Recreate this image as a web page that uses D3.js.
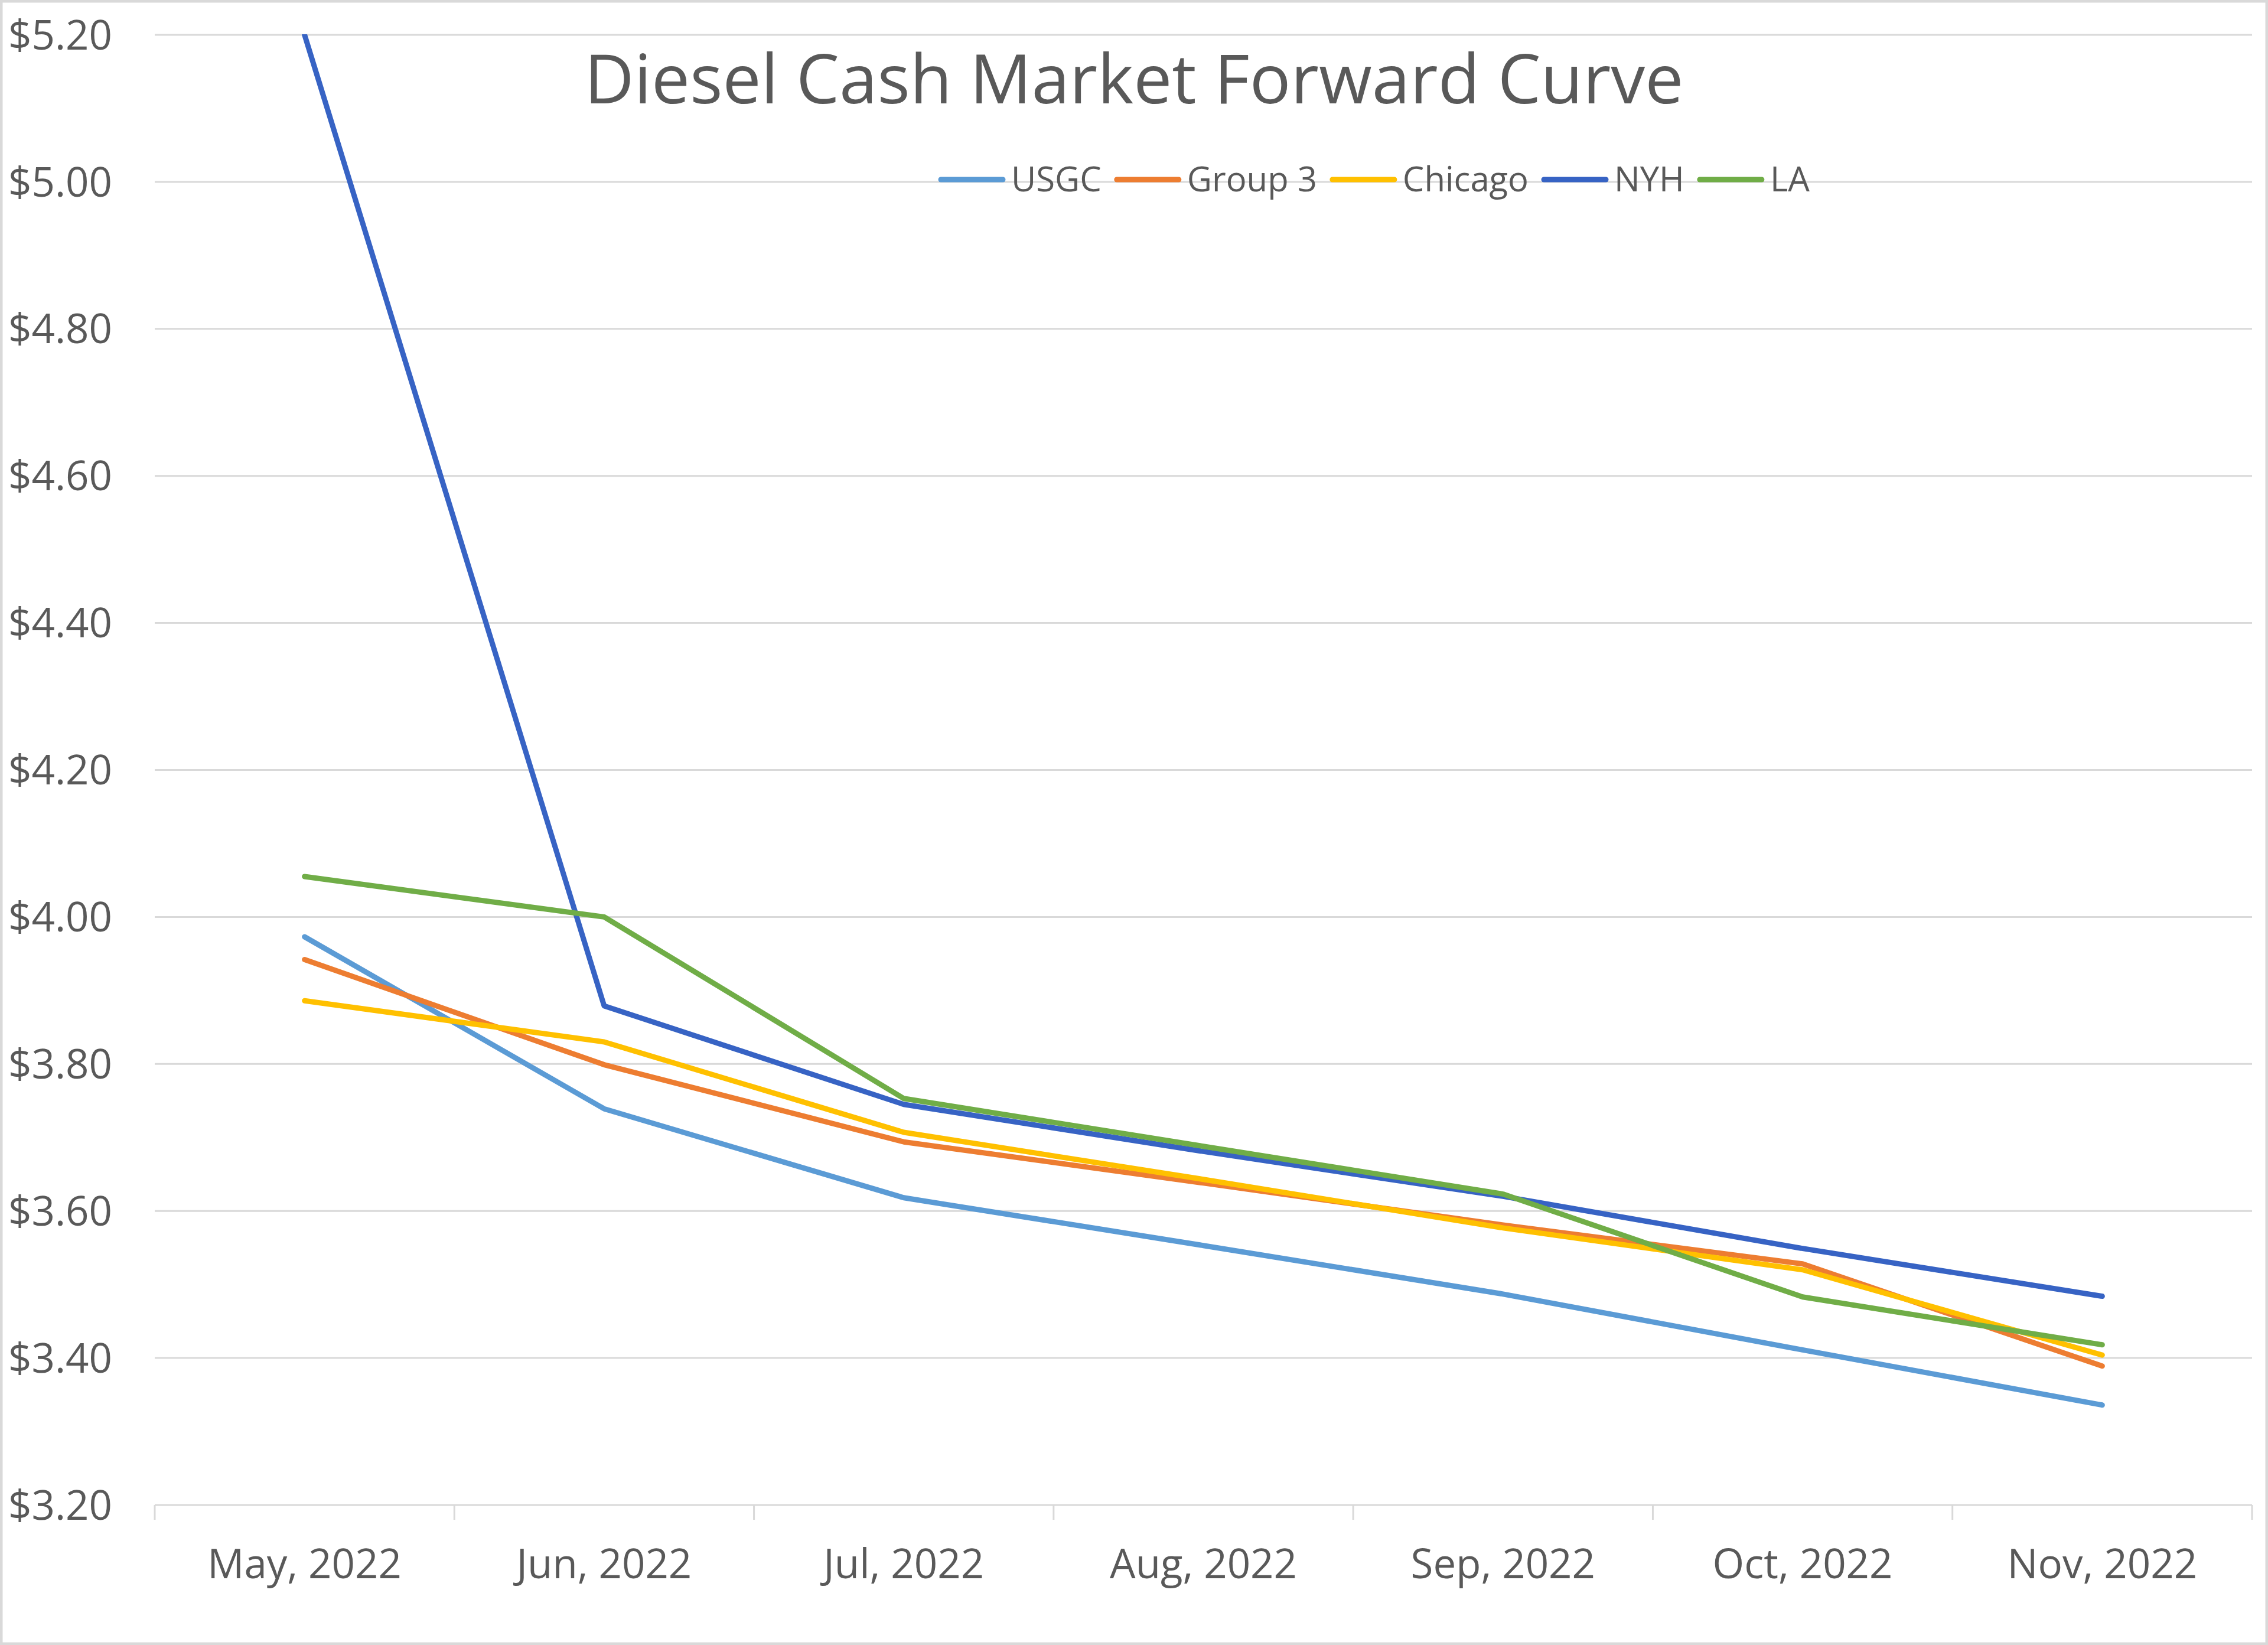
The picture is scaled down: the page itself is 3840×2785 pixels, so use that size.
<!DOCTYPE html>
<html>
<head>
<meta charset="utf-8">
<script src="https://cdn.jsdelivr.net/npm/d3@7"></script>
<style>
  html, body { margin: 0; padding: 0; background: #ffffff; }
  svg { display: block; }
</style>
</head>
<body>
<script>
// ---- Data ----
const categories = ["May, 2022", "Jun, 2022", "Jul, 2022", "Aug, 2022", "Sep, 2022", "Oct, 2022", "Nov, 2022"];
const seriesNames = ["USGC", "Group 3", "Chicago", "NYH", "LA"];
const usgc    = [3.973, 3.739, 3.618, 3.553, 3.487, 3.411, 3.336];
const group3  = [3.942, 3.799, 3.694, 3.638, 3.581, 3.528, 3.389];
const chicago = [3.886, 3.830, 3.707, 3.643, 3.577, 3.520, 3.404];
const nyh     = [5.200, 3.879, 3.745, 3.681, 3.620, 3.549, 3.484];
const la      = [4.055, 4.000, 3.753, 3.688, 3.623, 3.483, 3.418];
const yTicks  = [3.20, 3.40, 3.60, 3.80, 4.00, 4.20, 4.40, 4.60, 4.80, 5.00, 5.20];
const titleText = "Diesel Cash Market Forward Curve";

const seriesValues = [usgc, group3, chicago, nyh, la];
const colors = ["#5B9BD5", "#ED7D31", "#FFC000", "#3763C4", "#70AD47"];

// ---- Layout ----
const W = 3840, H = 2785;
const plot = { left: 262, right: 3813, top: 59, bottom: 2548 };
const font = "'Open Sans', 'Noto Sans', sans-serif";
const textColor = "#595959";
const gridColor = "#D9D9D9";

const svg = d3.select("body").append("svg")
  .attr("width", W).attr("height", H)
  .attr("viewBox", `0 0 ${W} ${H}`);

svg.append("rect").attr("x", 0).attr("y", 0).attr("width", W).attr("height", H).attr("fill", "#fff");
svg.append("rect").attr("x", 2).attr("y", 2).attr("width", W - 4).attr("height", H - 4)
  .attr("fill", "none").attr("stroke", gridColor).attr("stroke-width", 5);

const x = d3.scaleBand().domain(categories).range([plot.left, plot.right]).padding(0);
const y = d3.scaleLinear().domain([3.2, 5.2]).range([plot.bottom, plot.top]);

// Gridlines
svg.append("g").selectAll("line").data(yTicks).join("line")
  .attr("x1", plot.left).attr("x2", plot.right)
  .attr("y1", d => y(d)).attr("y2", d => y(d))
  .attr("stroke", gridColor).attr("stroke-width", 3);

// Y axis labels
const yAxis = d3.axisLeft(y).tickValues(yTicks).tickFormat(d3.format("$.2f")).tickSize(0).tickPadding(0);
const gy = svg.append("g").attr("transform", `translate(190,0)`).call(yAxis);
gy.select(".domain").remove();
gy.selectAll("text").attr("font-family", font).attr("font-size", 69).attr("fill", textColor)
  .attr("dy", "0.35em");

// X axis (category ticks between bands)
const gx = svg.append("g").attr("transform", `translate(0,${plot.bottom})`)
  .call(d3.axisBottom(x).tickSize(0).tickPadding(0));
gx.select(".domain").remove();
gx.selectAll("text").attr("font-family", font).attr("font-size", 69).attr("fill", textColor)
  .attr("dy", 0).attr("y", 2672 - plot.bottom);
const boundaries = categories.map(c => x(c)).concat([x(categories[categories.length - 1]) + x.bandwidth()]);
svg.append("g").selectAll("line").data(boundaries).join("line")
  .attr("x1", d => d).attr("x2", d => d)
  .attr("y1", plot.bottom).attr("y2", plot.bottom + 25)
  .attr("stroke", gridColor).attr("stroke-width", 3);

// Clip
svg.append("clipPath").attr("id", "plotclip").append("rect")
  .attr("x", plot.left).attr("y", plot.top - 1).attr("width", plot.right - plot.left).attr("height", plot.bottom - plot.top + 2);

// Lines
const line = d3.line()
  .x((d, i) => x(categories[i]) + x.bandwidth() / 2)
  .y(d => y(d));
const gl = svg.append("g").attr("clip-path", "url(#plotclip)");
seriesValues.forEach((vals, i) => {
  gl.append("path").datum(vals).attr("d", line)
    .attr("fill", "none").attr("stroke", colors[i]).attr("stroke-width", 9)
    .attr("stroke-linejoin", "round").attr("stroke-linecap", "round");
});

// Title
svg.append("text").attr("x", 1920).attr("y", 175).attr("text-anchor", "middle")
  .attr("font-family", font).attr("font-size", 116).attr("fill", textColor)
  .text(titleText);

// Legend
const lg = svg.append("g");
let lx = 1589;
const ly = 304;
seriesNames.forEach((name, i) => {
  lg.append("line").attr("x1", lx + 4).attr("x2", lx + 109).attr("y1", ly).attr("y2", ly)
    .attr("stroke", colors[i]).attr("stroke-width", 9).attr("stroke-linecap", "round");
  const t = lg.append("text").attr("x", lx + 123).attr("y", ly).attr("dy", "0.35em")
    .attr("font-family", font).attr("font-size", 58).attr("fill", textColor).text(name);
  const w = t.node().getComputedTextLength();
  lx = lx + 123 + w + 22;
});
</script>
</body>
</html>
